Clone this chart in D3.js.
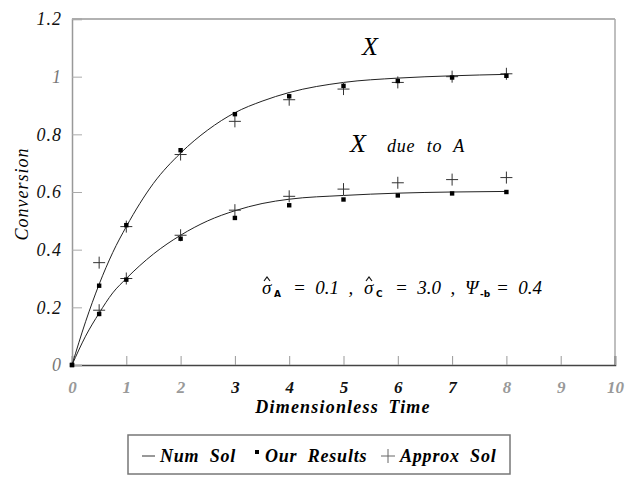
<!DOCTYPE html>
<html>
<head>
<meta charset="utf-8">
<script src="https://cdn.jsdelivr.net/npm/d3@7"></script>
<style>
  html, body { margin: 0; padding: 0; background: #fff; }
  svg { display: block; }
</style>
</head>
<body>
<svg id="chart" width="637" height="477"></svg>
<script>
// ---- data ----
const xTicks = [0, 1, 2, 3, 4, 5, 6, 7, 8, 9, 10];
const yTicks = [0, 0.2, 0.4, 0.6, 0.8, 1, 1.2];
const yTickLabels = ["0", "0.2", "0.4", "0.6", "0.8", "1", "1.2"];

// numerical solution curves
const tNum = [0, 0.25, 0.5, 0.75, 1, 1.5, 2, 2.5, 3, 3.5, 4, 5, 6, 7, 8];
const numX = [0, 0.15, 0.28, 0.39, 0.48, 0.63, 0.735, 0.815, 0.875, 0.915, 0.945, 0.98, 0.995, 1.003, 1.008];
const numA = [0, 0.10, 0.18, 0.25, 0.30, 0.385, 0.45, 0.50, 0.535, 0.56, 0.575, 0.588, 0.596, 0.60, 0.602];

// point series
const tPts = [0, 0.5, 1, 2, 3, 4, 5, 6, 7, 8];
const oursX = [0, 0.275, 0.485, 0.745, 0.87, 0.932, 0.968, 0.985, 0.997, 1.003];
const oursA = [0, 0.177, 0.296, 0.438, 0.51, 0.554, 0.574, 0.588, 0.595, 0.60];
const approxX = [0, 0.355, 0.48, 0.73, 0.845, 0.92, 0.957, 0.98, 1.0, 1.01];
const approxA = [0, 0.19, 0.30, 0.45, 0.537, 0.585, 0.61, 0.632, 0.643, 0.65];

const legendItems = ["Num Sol", "Our Results", "Approx Sol"];

// ---- layout ----
const SERIF = "Liberation Serif, Times New Roman, serif";
const SANS = "DejaVu Sans, sans-serif";
const svg = d3.select("#chart");
const mLeft = 72, mRight = 615, mTop = 19, mBottom = 365;
const x = d3.scaleLinear().domain([0, 10]).range([mLeft, mRight]);
const y = d3.scaleLinear().domain([0, 1.2]).range([mBottom, mTop]);

// frame (top & right)
svg.append("line").attr("x1", mLeft).attr("x2", mRight).attr("y1", mTop).attr("y2", mTop)
  .attr("stroke", "#999").attr("stroke-width", 1.6);
svg.append("line").attr("x1", mRight).attr("x2", mRight).attr("y1", mTop).attr("y2", mBottom)
  .attr("stroke", "#aaa").attr("stroke-width", 1.5);

// x axis
const xAxis = d3.axisBottom(x).tickValues(xTicks).tickSize(-9).tickPadding(16)
  .tickFormat(d3.format("d"));
const gx = svg.append("g").attr("transform", `translate(0,${mBottom})`).call(xAxis);
gx.select(".domain").attr("stroke", "#444").attr("stroke-width", 1.6);
gx.selectAll(".tick line").attr("stroke", "#999");
const fadedX = new Set([0, 1, 2, 8, 9, 10]);
gx.selectAll(".tick text")
  .attr("font-family", SERIF)
  .attr("font-style", "italic").attr("font-weight", "bold")
  .attr("font-size", 17)
  .attr("fill", d => fadedX.has(d) ? "#999" : "#111");

// y axis
const yAxis = d3.axisLeft(y).tickValues(yTicks).tickSize(-10).tickPadding(10)
  .tickFormat((d, i) => yTickLabels[i]);
const gy = svg.append("g").attr("transform", `translate(${mLeft},0)`).call(yAxis);
gy.select(".domain").attr("stroke", "#999").attr("stroke-width", 1.5);
gy.selectAll(".tick line").attr("stroke", "#aaa");
const fadedY = new Set([0, 1]);
gy.selectAll(".tick text")
  .attr("font-family", SERIF)
  .attr("font-style", "italic")
  .attr("font-size", 18).attr("letter-spacing", 1)
  .attr("fill", d => fadedY.has(d) ? "#777" : "#111");

// axis titles
svg.append("text").attr("x", 343).attr("y", 413).attr("text-anchor", "middle")
  .attr("font-family", SERIF)
  .attr("font-style", "italic").attr("font-weight", "bold").attr("font-size", 18)
  .attr("letter-spacing", 1.2).attr("word-spacing", 4)
  .text("Dimensionless Time");
svg.append("text").attr("transform", "translate(28,194) rotate(-90)").attr("text-anchor", "middle")
  .attr("font-family", SERIF)
  .attr("font-style", "italic").attr("font-size", 18).attr("letter-spacing", 1)
  .text("Conversion");

// curves
const line = d3.line().curve(d3.curveMonotoneX);
[numX, numA].forEach(arr => {
  svg.append("path")
    .attr("d", line(tNum.map((t, i) => [x(t), y(arr[i])])))
    .attr("fill", "none").attr("stroke", "#222").attr("stroke-width", 1);
});

// approx (plus)
const plusSize = 6;
[approxX, approxA].forEach(arr => {
  svg.append("g").selectAll("path").data(tPts.map((t, i) => [t, arr[i]]).filter(d => d[0] > 0))
    .join("path")
    .attr("d", d => {
      const cx = x(d[0]), cy = y(d[1]);
      return `M${cx - plusSize},${cy}H${cx + plusSize}M${cx},${cy - plusSize}V${cy + plusSize}`;
    })
    .attr("stroke", "#333").attr("stroke-width", 1).attr("fill", "none");
});

// our results (squares)
[oursX, oursA].forEach(arr => {
  svg.append("g").selectAll("rect").data(tPts.map((t, i) => [t, arr[i]]))
    .join("rect")
    .attr("x", d => x(d[0]) - 2.2).attr("y", d => y(d[1]) - 2.2)
    .attr("width", 4.4).attr("height", 4.4).attr("fill", "#000");
});

// curve labels
svg.append("text").attr("x", 362).attr("y", 55).attr("font-family", SERIF)
  .attr("font-style", "italic").attr("font-size", 26).text("X");
svg.append("text").attr("x", 350).attr("y", 152).attr("font-family", SERIF)
  .attr("font-style", "italic").attr("font-size", 26).text("X");
svg.append("text").attr("x", 387).attr("y", 152).attr("font-family", SERIF)
  .attr("font-style", "italic").attr("font-size", 18).attr("letter-spacing", 0.8)
  .attr("word-spacing", 6).text("due to A");

// parameter annotation
const annY = 294;
const annParts = [
  { t: "\u03C3", x: 262 },
  { t: "A", x: 274, sub: true },
  { t: "=  0.1  ,", x: 293 },
  { t: "\u03C3", x: 364 },
  { t: "C", x: 376, sub: true },
  { t: "=  3.0  ,", x: 395 },
  { t: "\u03A8", x: 465 },
  { t: "-b", x: 480, sub: true },
  { t: "=  0.4", x: 496 }
];
annParts.forEach(p => {
  svg.append("text").attr("x", p.x).attr("y", p.sub ? annY + 3 : annY)
    .attr("font-family", p.sub ? SANS : SERIF)
    .attr("font-style", p.sub ? "normal" : "italic")
    .attr("font-weight", p.sub ? "bold" : "normal")
    .attr("font-size", p.sub ? 9 : 19)
    .attr("xml:space", "preserve").style("white-space", "pre")
    .text(p.t);
});
// hats over sigma
[262, 364].forEach(hx => {
  svg.append("path").attr("d", `M${hx + 2},${annY - 13}L${hx + 5},${annY - 17}L${hx + 8},${annY - 13}`)
    .attr("fill", "none").attr("stroke", "#111").attr("stroke-width", 1.2);
});

// legend
svg.append("rect").attr("x", 128).attr("y", 435).attr("width", 382).attr("height", 39)
  .attr("fill", "none").attr("stroke", "#777").attr("stroke-width", 1.5);
const ly = 462;
svg.append("line").attr("x1", 142).attr("x2", 155).attr("y1", ly - 6).attr("y2", ly - 6)
  .attr("stroke", "#333").attr("stroke-width", 1);
const legX = [160, 265, 400];
legendItems.forEach((s, i) => {
  svg.append("text").attr("x", legX[i]).attr("y", ly).attr("font-family", SERIF)
    .attr("font-style", "italic").attr("font-weight", "bold")
    .attr("font-size", 18).attr("letter-spacing", 0.8).attr("word-spacing", 5).text(s);
});
svg.append("rect").attr("x", 255).attr("y", ly - 12).attr("width", 4).attr("height", 4).attr("fill", "#000");
svg.append("path").attr("d", `M381,${ly - 6}H395M388,${ly - 13}V${ly + 1}`)
  .attr("stroke", "#666").attr("stroke-width", 1).attr("fill", "none");
</script>
</body>
</html>
